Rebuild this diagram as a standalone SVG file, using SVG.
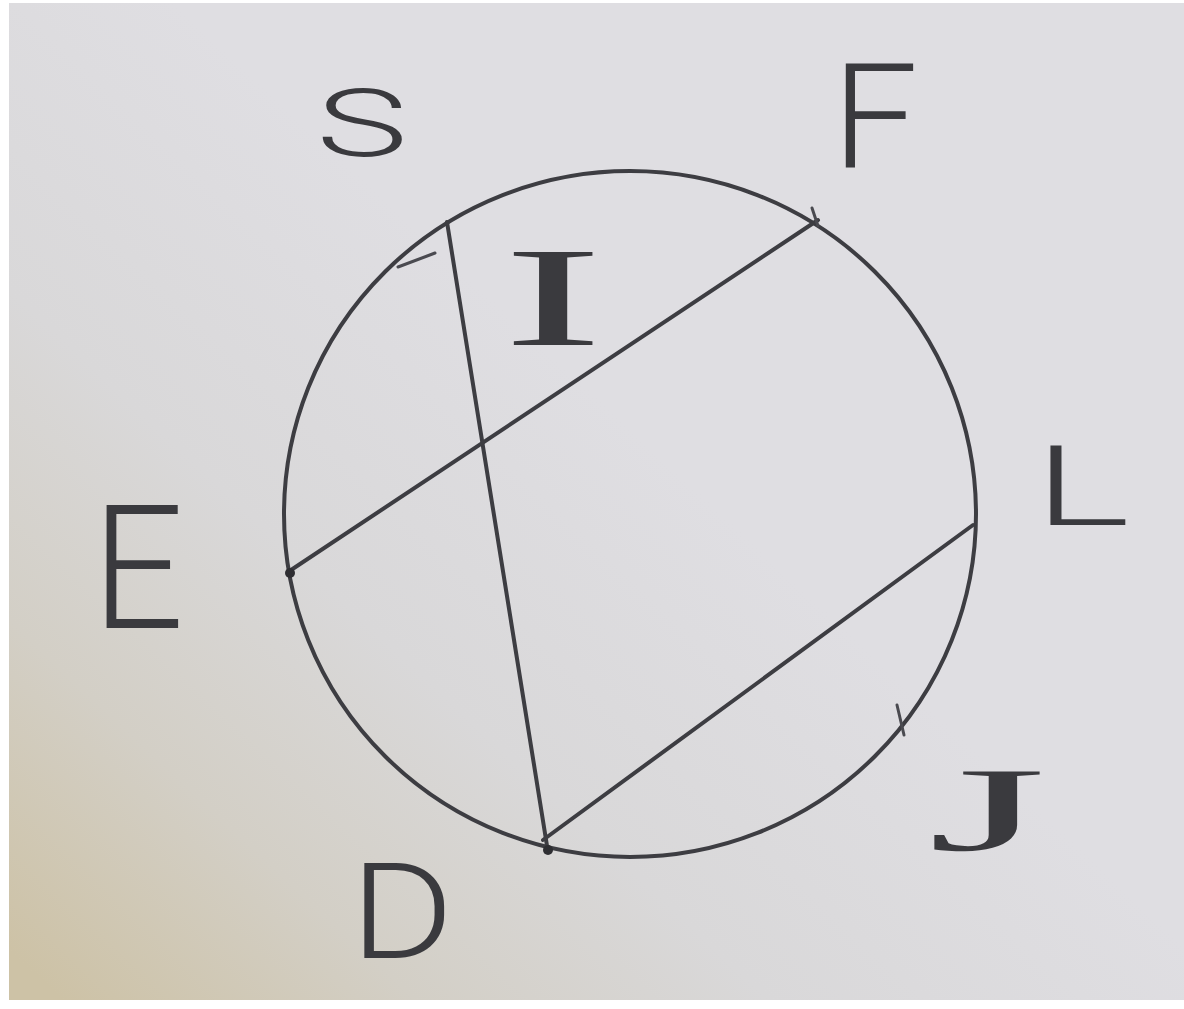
<svg xmlns="http://www.w3.org/2000/svg" width="1184" height="1009" viewBox="0 0 1184 1009">
<defs>
<linearGradient id="bg" x1="0" y1="0.95" x2="0.55" y2="0.45">
<stop offset="0" stop-color="#cdc2a6"/>
<stop offset="0.3" stop-color="#d3cfc6"/>
<stop offset="0.6" stop-color="#d9d8d9"/>
<stop offset="1" stop-color="#dfdee2"/>
</linearGradient>
<style>
.ln{stroke:#3d3d42;stroke-width:4;fill:none;stroke-linecap:round}
.tk{stroke:#4a4a50;stroke-width:3;fill:none;stroke-linecap:round}
.lb{fill:#3a3a3e;font-family:Roboto,"Liberation Sans",Arial,sans-serif;font-weight:300}
.lbs{fill:#3a3a3e;font-family:"Liberation Serif","Times New Roman",serif}
</style>
</defs>
<rect width="1184" height="1009" fill="#ffffff"/>
<rect x="9" y="3" width="1175" height="997" fill="url(#bg)"/>
<g id="connectors">
<ellipse class="ln" cx="630" cy="514" rx="346" ry="343"/>
<line class="ln" x1="447" y1="222" x2="548" y2="852"/>
<line class="ln" x1="818" y1="220" x2="288" y2="572"/>
<line class="ln" x1="973" y1="525" x2="543" y2="840"/>
<line class="tk" x1="398" y1="267" x2="435" y2="253"/>
<line class="tk" x1="812" y1="208" x2="818" y2="226"/>
<line class="tk" x1="897" y1="705" x2="904" y2="735"/>
<circle cx="290" cy="573" r="5" fill="#2e2e32"/>
<circle cx="548" cy="850" r="5" fill="#2e2e32"/>
</g>
<g id="S"><text class="lb" x="316" y="156" font-size="94" textLength="92" lengthAdjust="spacingAndGlyphs">S</text></g>
<g id="F"><text class="lb" x="832" y="168" font-size="146" textLength="86" lengthAdjust="spacingAndGlyphs">F</text></g>
<g id="I"><text class="lbs" x="503" y="345" font-size="142" textLength="100" lengthAdjust="spacingAndGlyphs">I</text></g>
<g id="L"><text class="lb" x="1034" y="525" font-size="112" textLength="96" lengthAdjust="spacingAndGlyphs">L</text></g>
<g id="E"><text class="lb" x="92" y="628" font-size="172" textLength="92" lengthAdjust="spacingAndGlyphs">E</text></g>
<g id="D"><text class="lb" x="350" y="958" font-size="134" textLength="104" lengthAdjust="spacingAndGlyphs">D</text></g>
<g id="J"><text class="lbs" x="928" y="850" font-size="120" textLength="118" lengthAdjust="spacingAndGlyphs">J</text></g>
</svg>
